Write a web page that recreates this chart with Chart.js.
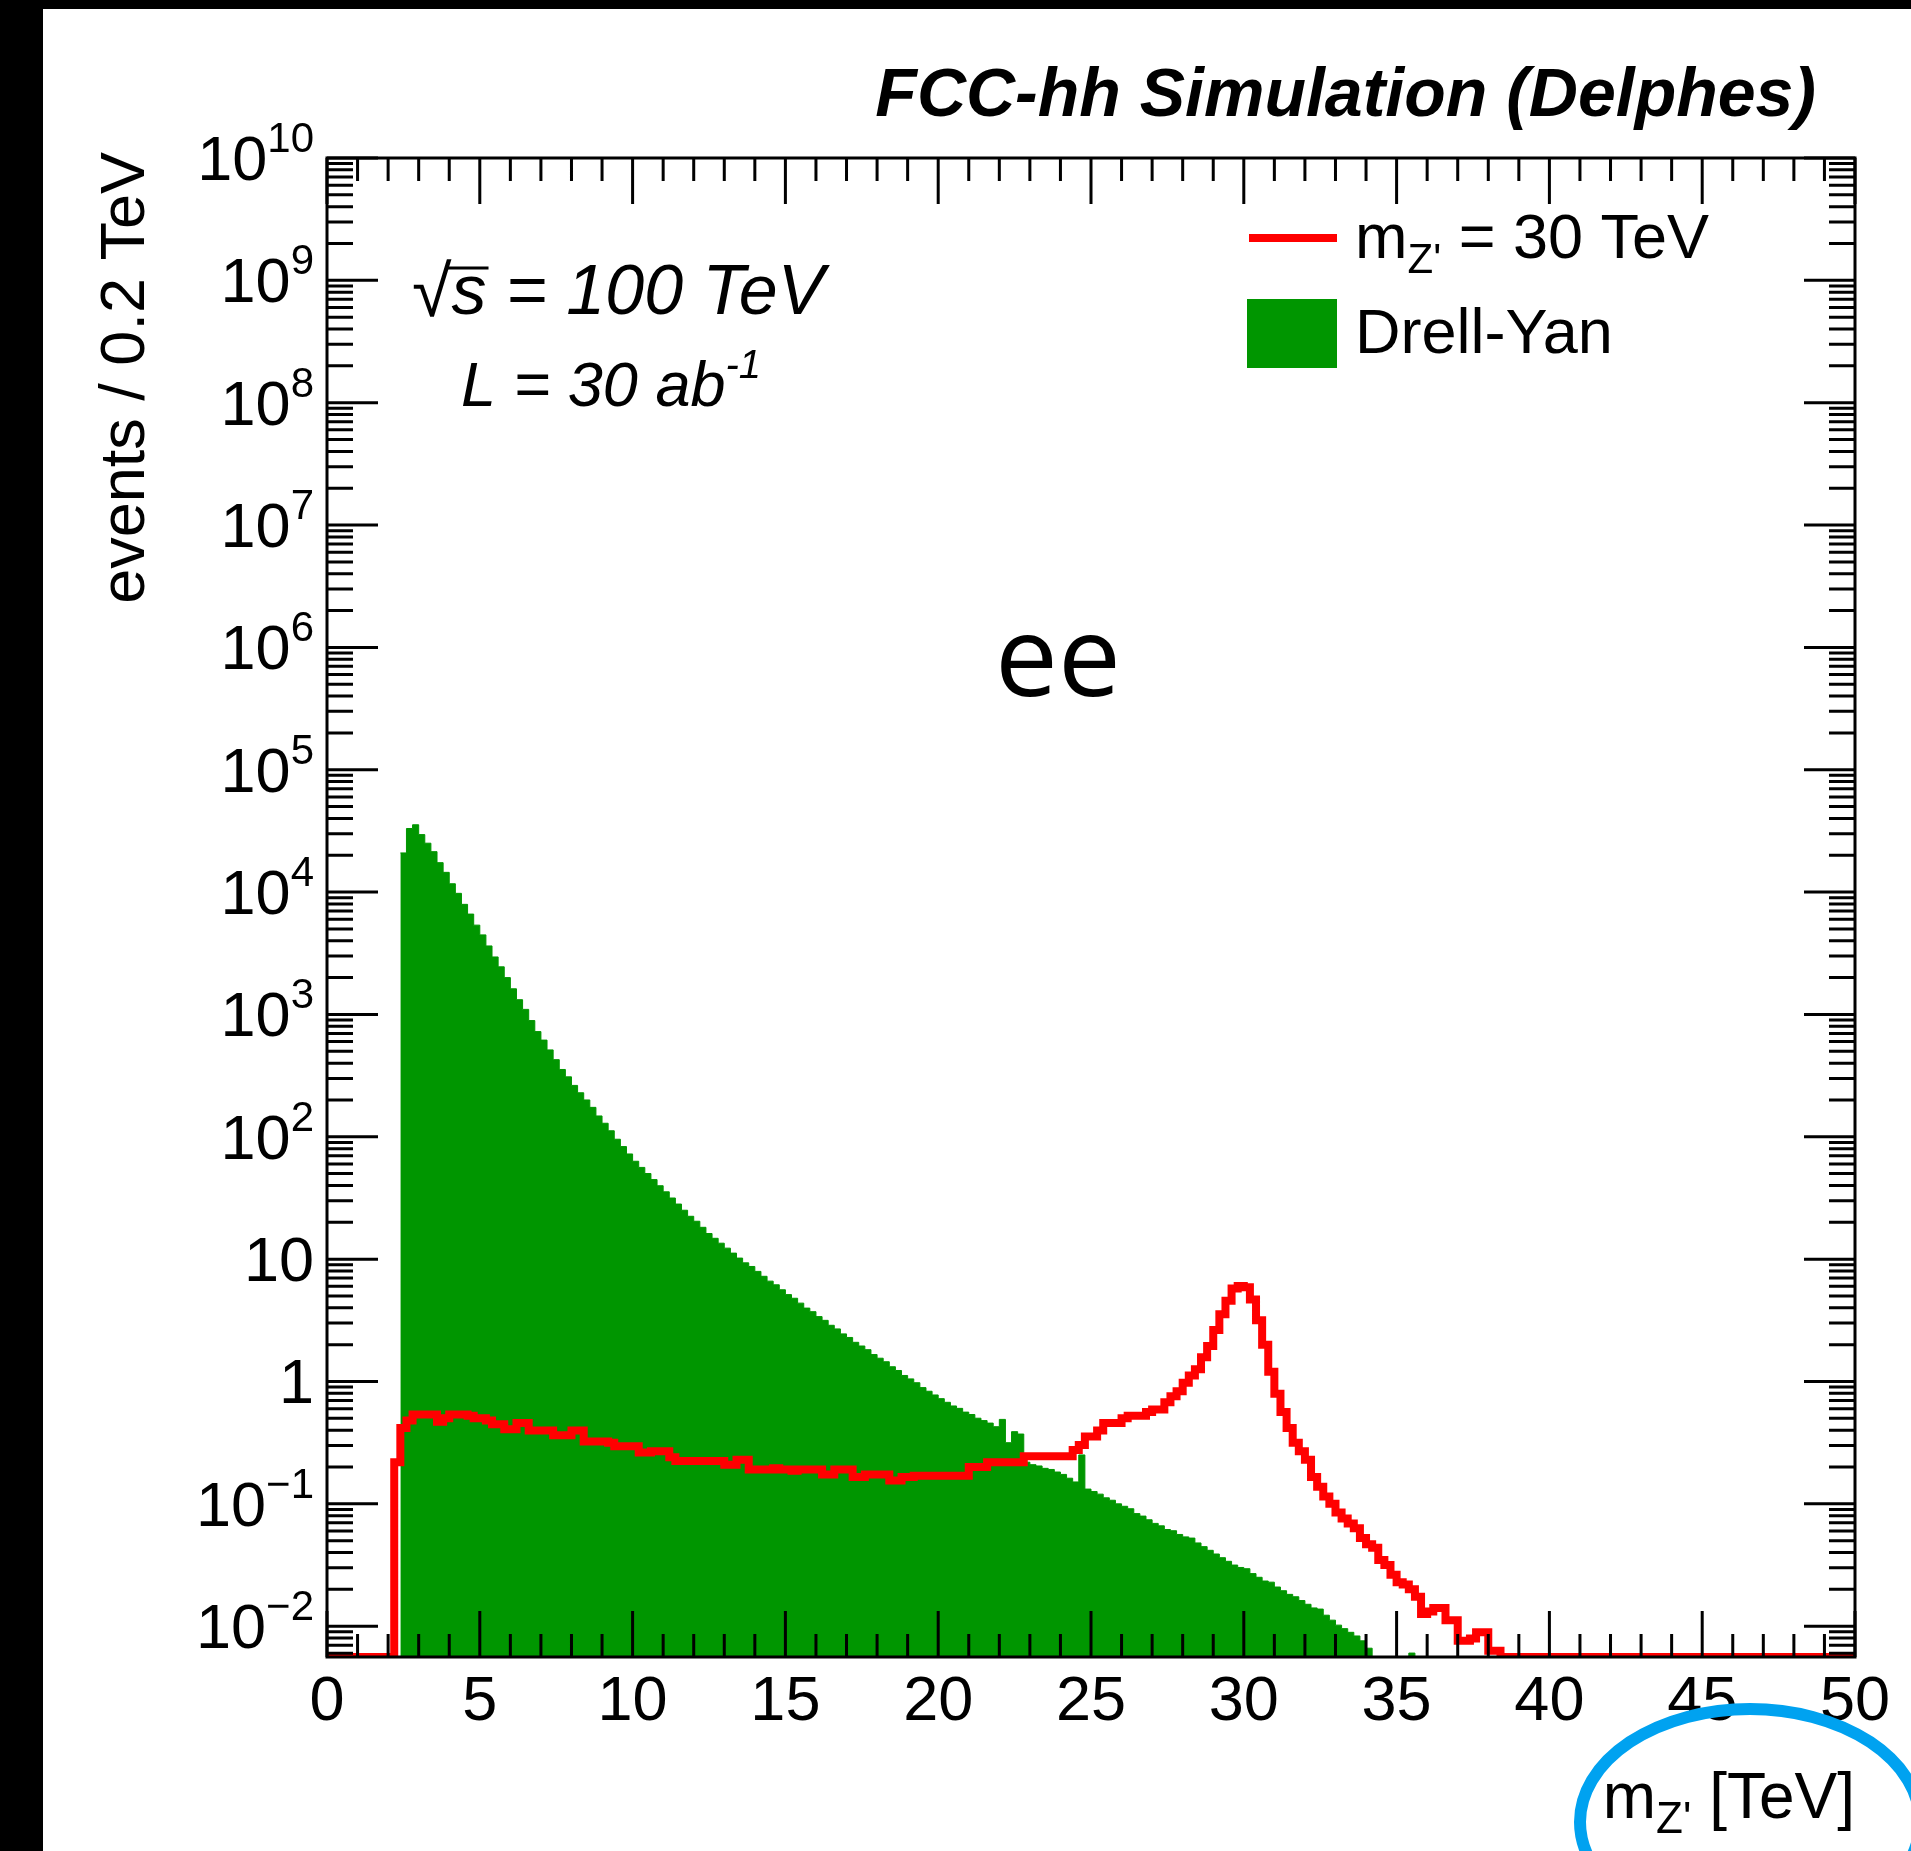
<!DOCTYPE html>
<html>
<head>
<meta charset="utf-8">
<title>FCC-hh Simulation (Delphes) - ee</title>
<script src="https://cdn.jsdelivr.net/npm/chart.js@4.4.1/dist/chart.umd.min.js"></script>
<style>
    html, body { margin: 0; padding: 0; background: #fff; }
    #wrap { width: 1911px; height: 1851px; }
</style>
</head>
<body>
<div id="wrap"><canvas id="chart" width="1911" height="1851"></canvas></div>
<script>
// 坐标范围
const X_MIN = 0;
const X_MAX = 50;
const BIN_WIDTH = 0.2;
const Y_MIN = 0.0056;
const Y_MAX = 1e10;

// 刻度标签
const X_TICK_LABELS = [0, 5, 10, 15, 20, 25, 30, 35, 40, 45, 50];
const Y_TICK_POWERS = [-2, -1, 0, 1, 2, 3, 4, 5, 6, 7, 8, 9, 10];

// Drell-Yan 本底 (每 0.2 TeV 一个 bin, 从 2.4 TeV 开始)
const DY_START = 2.4;
const DY_VALUES = [
    20900, 33100, 35500, 29500, 25100, 21400, 17400, 14500, 11700, 9770,
    7940, 6610, 5370, 4470, 3630, 2950, 2450, 2000, 1620, 1320,
    1100, 891, 724, 617, 513, 427, 355, 309, 263, 229,
    200, 174, 148, 129, 112, 95.5, 83.2, 72.4, 63.1, 56.2,
    50.1, 44.7, 39.8, 35.5, 31.6, 28.2, 25.1, 22.4, 20.4, 18.2,
    16.2, 14.8, 13.5, 12.3, 11.2, 10.2, 9.33, 8.71, 7.94, 7.24,
    6.61, 6.17, 5.62, 5.13, 4.79, 4.37, 3.98, 3.72, 3.39, 3.16,
    2.88, 2.69, 2.45, 2.29, 2.09, 1.95, 1.82, 1.66, 1.55, 1.45,
    1.32, 1.23, 1.12, 1.05, 0.977, 0.891, 0.832, 0.776, 0.724, 0.676,
    0.631, 0.603, 0.562, 0.537, 0.501, 0.479, 0.457, 0.427, 0.490, 0.316,
    0.389, 0.372, 0.219, 0.209, 0.204, 0.195, 0.191, 0.182, 0.174, 0.162,
    0.151, 0.251, 0.132, 0.126, 0.120, 0.112, 0.107, 0.100, 0.0955, 0.0912,
    0.0832, 0.0794, 0.0741, 0.0692, 0.0661, 0.0617, 0.0603, 0.0562, 0.0537, 0.0525,
    0.0479, 0.0447, 0.0417, 0.0389, 0.0363, 0.0339, 0.0316, 0.0302, 0.0295, 0.0269,
    0.0251, 0.0234, 0.0229, 0.0209, 0.0195, 0.0182, 0.0174, 0.0162, 0.0151, 0.0141,
    0.0138, 0.0123, 0.0112, 0.0102, 0.00955, 0.00891, 0.00832, 0.00759, 0.00661, 0,
    0, 0, 0, 0, 0, 0.00603
];

// Z' 信号 m = 30 TeV (每 0.2 TeV 一个 bin, 从 2.2 TeV 开始)
const SIGNAL_START = 2.2;
const SIGNAL_VALUES = [
    0.219, 0.417, 0.479, 0.537, 0.537, 0.537, 0.537, 0.468, 0.501, 0.537,
    0.537, 0.537, 0.525, 0.501, 0.501, 0.479, 0.447, 0.447, 0.407, 0.407,
    0.457, 0.457, 0.398, 0.398, 0.398, 0.398, 0.363, 0.363, 0.363, 0.398,
    0.398, 0.324, 0.324, 0.324, 0.324, 0.316, 0.295, 0.295, 0.295, 0.295,
    0.263, 0.263, 0.269, 0.269, 0.269, 0.240, 0.224, 0.224, 0.224, 0.224,
    0.224, 0.224, 0.224, 0.224, 0.209, 0.209, 0.229, 0.229, 0.191, 0.191,
    0.191, 0.191, 0.195, 0.191, 0.191, 0.186, 0.191, 0.191, 0.191, 0.191,
    0.174, 0.174, 0.191, 0.191, 0.191, 0.166, 0.166, 0.174, 0.174, 0.174,
    0.174, 0.155, 0.155, 0.166, 0.166, 0.170, 0.170, 0.170, 0.170, 0.170,
    0.170, 0.170, 0.170, 0.170, 0.200, 0.200, 0.200, 0.219, 0.219, 0.219,
    0.219, 0.219, 0.219, 0.245, 0.245, 0.245, 0.245, 0.245, 0.245, 0.245,
    0.245, 0.275, 0.302, 0.355, 0.355, 0.398, 0.457, 0.457, 0.457, 0.501,
    0.525, 0.525, 0.525, 0.562, 0.589, 0.589, 0.676, 0.759, 0.832, 0.977,
    1.12, 1.26, 1.58, 1.95, 2.63, 3.55, 4.57, 5.75, 6.03, 5.89,
    4.68, 3.16, 2.00, 1.20, 0.794, 0.562, 0.417, 0.316, 0.269, 0.229,
    0.166, 0.138, 0.115, 0.100, 0.0851, 0.0759, 0.0692, 0.0631, 0.0525, 0.0468,
    0.0437, 0.0347, 0.0316, 0.0263, 0.0229, 0.0219, 0.0200, 0.0174, 0.0126, 0.0132,
    0.0141, 0.0141, 0.0112, 0.0112, 0.00759, 0.00759, 0.00794, 0.00891, 0.00891, 0.00631,
    0.00631
];

const DY_COLOR = '#009600';
const SIGNAL_COLOR = '#ff0000';
const FONT = '"Liberation Sans", Arial, Helvetica, sans-serif';

// 直方图 -> 阶梯点 (左边沿), 空 bin 画在坐标下限
function histPoints(start, values) {
    const pts = values.map((v, i) => ({
        x: +(start + i * BIN_WIDTH).toFixed(1),
        y: v > 0 ? v : Y_MIN
    }));
    pts.push({ x: +(start + values.length * BIN_WIDTH).toFixed(1), y: Y_MIN });
    return pts;
}

const dyPoints = histPoints(DY_START, DY_VALUES);
const signalPoints = [{ x: X_MIN, y: Y_MIN }, ...histPoints(SIGNAL_START, SIGNAL_VALUES), { x: X_MAX, y: Y_MIN }];

function font(size, style) {
    return (style ? style + ' ' : '') + size + 'px ' + FONT;
}

// 多段文字 (上标/下标)
function richText(ctx, parts, x, y, align) {
    let total = 0;
    parts.forEach(p => {
        ctx.font = p.font;
        p.w = ctx.measureText(p.text).width;
        total += p.w;
    });
    let cx = align === 'right' ? x - total : (align === 'center' ? x - total / 2 : x);
    ctx.textAlign = 'left';
    parts.forEach(p => {
        ctx.font = p.font;
        ctx.fillText(p.text, cx, y + (p.dy || 0));
        cx += p.w;
    });
}

// 边框与刻度 (ROOT 风格, 刻度朝内, 四边都有)
function drawFrame(chart) {
    const { ctx, chartArea: a, scales: { x, y } } = chart;
    ctx.save();
    ctx.strokeStyle = '#000';
    ctx.lineWidth = 3;
    ctx.beginPath();
    for (let t = X_MIN; t <= X_MAX; t++) {
        const px = x.getPixelForValue(t);
        const len = t % 5 === 0 ? 46 : 23;
        ctx.moveTo(px, a.bottom);
        ctx.lineTo(px, a.bottom - len);
        ctx.moveTo(px, a.top);
        ctx.lineTo(px, a.top + len);
    }
    for (let p = -3; p <= 10; p++) {
        for (let k = 1; k <= 9; k++) {
            const v = k * Math.pow(10, p);
            if (v < Y_MIN || v > Y_MAX * 1.001) continue;
            const py = y.getPixelForValue(v);
            const len = k === 1 ? 51 : 26;
            ctx.moveTo(a.left, py);
            ctx.lineTo(a.left + len, py);
            ctx.moveTo(a.right, py);
            ctx.lineTo(a.right - len, py);
        }
    }
    ctx.stroke();
    ctx.strokeRect(a.left, a.top, a.right - a.left, a.bottom - a.top);
    ctx.restore();
}

// 文字, 图例, 标注
function drawTexts(chart) {
    const { ctx, chartArea: a, scales: { x, y } } = chart;
    ctx.save();
    ctx.fillStyle = '#000';
    ctx.textBaseline = 'alphabetic';

    // x 轴刻度标签
    ctx.font = font(63);
    ctx.textAlign = 'center';
    X_TICK_LABELS.forEach(t => ctx.fillText(String(t), x.getPixelForValue(t), 1720));

    // y 轴刻度标签
    Y_TICK_POWERS.forEach(p => {
        const base = y.getPixelForValue(Math.pow(10, p)) + 22;
        let parts;
        if (p === 0) parts = [{ text: '1', font: font(63) }];
        else if (p === 1) parts = [{ text: '10', font: font(63) }];
        else parts = [
            { text: '10', font: font(63) },
            { text: p < 0 ? '\u2212' + (-p) : String(p), font: font(42), dy: -28 }
        ];
        richText(ctx, parts, 314, base, 'right');
    });

    // 标题
    richText(ctx, [{ text: 'FCC-hh Simulation (Delphes)', font: font(68, 'italic bold') }], 1816, 116, 'right');

    // y 轴标题
    ctx.save();
    ctx.translate(144, 152);
    ctx.rotate(-Math.PI / 2);
    ctx.textAlign = 'right';
    ctx.font = font(63);
    ctx.fillText('events / 0.2 TeV', 0, 0);
    ctx.restore();

    // x 轴标题
    richText(ctx, [
        { text: 'm', font: font(64) },
        { text: "Z'", font: font(44), dy: 15 },
        { text: ' [TeV]', font: font(64) }
    ], a.right, 1818, 'right');

    // sqrt(s) 与亮度
    ctx.font = font(72);
    ctx.textAlign = 'left';
    ctx.fillText('\u221A', 412, 316);
    const rootW = ctx.measureText('\u221A').width;
    ctx.font = font(70, 'italic');
    const sW = ctx.measureText('s').width;
    ctx.fillText('s = 100 TeV', 412 + rootW, 314);
    ctx.lineWidth = 3;
    ctx.beginPath();
    ctx.moveTo(412 + rootW - 4, 268);
    ctx.lineTo(412 + rootW + sW + 2, 268);
    ctx.stroke();

    richText(ctx, [
        { text: 'L = 30 ab', font: font(63, 'italic') },
        { text: '-1', font: font(40, 'italic'), dy: -28 }
    ], 461, 406, 'left');

    // 通道
    ctx.font = '112px "Open Sans", "DejaVu Sans", sans-serif';
    ctx.textAlign = 'left';
    ctx.fillText('ee', 995, 696);

    // 图例
    ctx.strokeStyle = SIGNAL_COLOR;
    ctx.lineWidth = 8;
    ctx.beginPath();
    ctx.moveTo(1249, 238);
    ctx.lineTo(1337, 238);
    ctx.stroke();
    richText(ctx, [
        { text: 'm', font: font(63) },
        { text: "Z'", font: font(42), dy: 15 },
        { text: ' = 30 TeV', font: font(63) }
    ], 1355, 258, 'left');
    ctx.fillStyle = DY_COLOR;
    ctx.fillRect(1247, 299, 90, 69);
    ctx.fillStyle = '#000';
    richText(ctx, [{ text: 'Drell-Yan', font: font(63) }], 1355, 353, 'left');

    // 手绘蓝圈
    ctx.strokeStyle = 'rgb(0, 162, 240)';
    ctx.lineWidth = 12;
    ctx.beginPath();
    ctx.ellipse(1750, 1822, 170, 113, 0, 0, Math.PI * 2);
    ctx.stroke();

    ctx.restore();
}

const rootStylePlugin = {
    id: 'rootStyle',
    beforeDraw(chart) {
        const ctx = chart.ctx;
        ctx.save();
        ctx.fillStyle = '#fff';
        ctx.fillRect(0, 0, chart.width, chart.height);
        ctx.fillStyle = '#000';
        ctx.fillRect(0, 0, 43, chart.height);
        ctx.fillRect(0, 0, chart.width, 9);
        ctx.restore();
    },
    afterDatasetsDraw(chart) {
        drawFrame(chart);
    },
    afterDraw(chart) {
        drawTexts(chart);
    }
};

new Chart(document.getElementById('chart'), {
    type: 'line',
    data: {
        datasets: [
            {
                label: "m_Z' = 30 TeV",
                data: signalPoints,
                stepped: 'before',
                borderColor: SIGNAL_COLOR,
                borderWidth: 8,
                borderJoinStyle: 'miter',
                pointRadius: 0,
                fill: false,
                clip: 0,
                order: 0
            },
            {
                label: 'Drell-Yan',
                data: dyPoints,
                stepped: 'before',
                borderColor: DY_COLOR,
                backgroundColor: DY_COLOR,
                borderWidth: 1,
                pointRadius: 0,
                fill: 'start',
                clip: 0,
                order: 1
            }
        ]
    },
    options: {
        responsive: false,
        animation: false,
        devicePixelRatio: 1,
        events: [],
        layout: { padding: { left: 327, top: 158, right: 56, bottom: 194 } },
        scales: {
            x: { type: 'linear', min: X_MIN, max: X_MAX, display: false },
            y: { type: 'logarithmic', min: Y_MIN, max: Y_MAX, display: false }
        },
        plugins: {
            legend: { display: false },
            tooltip: { enabled: false }
        }
    },
    plugins: [rootStylePlugin]
});
</script>
</body>
</html>
